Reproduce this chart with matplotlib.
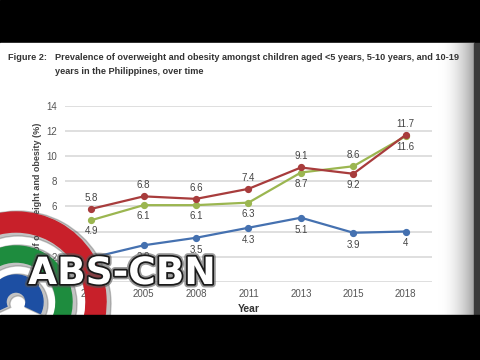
import matplotlib
matplotlib.use("Agg")
import matplotlib.pyplot as plt
import numpy as np
from matplotlib.patches import Rectangle, Wedge
import matplotlib.patheffects as pe

years = ["2003", "2005", "2008", "2011", "2013", "2015", "2018"]
age_5_10 = [5.8, 6.8, 6.6, 7.4, 9.1, 8.6, 11.7]
age_10_19 = [4.9, 6.1, 6.1, 6.3, 8.7, 9.2, 11.6]
under_5 = [1.9, 2.9, 3.5, 4.3, 5.1, 3.9, 4.0]
y_ticks = [0, 2, 4, 6, 8, 10, 12, 14]

RED = "#a83c3c"
GREEN = "#9bb650"
BLUE = "#4571b0"
plt.rcParams["font.family"] = ["Liberation Sans", "DejaVu Sans"]

W, H = 480, 360
fig = plt.figure(figsize=(4.8, 3.6), dpi=100)

# background (pixel coordinates, y down)
bg = fig.add_axes([0, 0, 1, 1], zorder=0)
bg.set_xlim(0, W); bg.set_ylim(H, 0); bg.axis("off")
bg.add_patch(Rectangle((0, 0), W, H, color="black"))
bg.add_patch(Rectangle((0, 43), 474, 272, color="white"))
grad = np.linspace(0, 1, 64) ** 2
img = np.ones((2, 64, 3)) * (1 - 0.35 * grad)[None, :, None]
bg.imshow(img, extent=(438, 474, 315, 43), aspect="auto", zorder=2)
bg.add_patch(Rectangle((474, 43), 6, 272, color="#3a3a3a", zorder=3))

tkw = dict(fontsize=6.6, fontweight="bold", color="#333333", va="center", ha="left")
bg.text(8, 57, "Figure 2:", **tkw)
bg.text(55, 57, "Prevalence of overweight and obesity amongst children aged <5 years, 5-10 years, and 10-19", **tkw)
bg.text(55, 71, "years in the Philippines, over time", **tkw)
bg.text(38, 212, "Prevalence of overweight and obesity (%)", rotation=90,
        fontsize=6.5, fontweight="bold", color="#444444", va="center", ha="center")

# main chart
ax = fig.add_axes([65 / W, (H - 281.7) / H, 367 / W, 175.7 / H], zorder=1)
ax.patch.set_alpha(0)
x = np.arange(len(years))
ax.set_xlim(-0.5, len(years) - 0.5)
ax.set_ylim(0, 14)
ax.set_yticks(y_ticks)
ax.set_xticks(x)
ax.set_xticklabels(years)
for s in ax.spines.values():
    s.set_visible(False)
ax.grid(axis="y", color="#dcdcdc", lw=1.3)
ax.set_axisbelow(True)
ax.tick_params(length=0, labelsize=7, labelcolor="#555555")
ax.tick_params(axis="y", pad=6)
ax.tick_params(axis="x", pad=5)
ax.set_xlabel("Year", fontsize=7.5, fontweight="bold", color="#333333", labelpad=4)

for vals, col in [(under_5, BLUE), (age_10_19, GREEN), (age_5_10, RED)]:
    ax.plot(x, vals, color=col, lw=1.6, marker="o", ms=4.2, zorder=3)

lab_kw = dict(textcoords="offset points", ha="center", va="center",
              fontsize=7, color="#444444")
for i in x:
    top = max(age_5_10[i], age_10_19[i])
    bot = min(age_5_10[i], age_10_19[i])
    ax.annotate(f"{age_5_10[i]:g}", (i, top), xytext=(0, 8), **lab_kw)
    ax.annotate(f"{age_10_19[i]:g}", (i, bot), xytext=(0, -8), **lab_kw)
    ax.annotate(f"{under_5[i]:g}", (i, under_5[i]), xytext=(0, -8.5), **lab_kw)

# ABS-CBN watermark overlay (pixel coordinates, y up)
ov = fig.add_axes([0, 0, 1, 1], zorder=5)
ov.set_xlim(0, W); ov.set_ylim(0, H); ov.axis("off"); ov.patch.set_alpha(0)
cx, cy = 16, 58
for r, wdt, col in [(90, 20, "#c8202a"), (56, 16, "#1e8c3e"), (27, 17, "#1d4fa3")]:
    ov.add_patch(Wedge((cx + 2, cy - 2), r + 3, -25, 205, width=wdt + 5,
                       color="#555555", alpha=0.35))
    ov.add_patch(Wedge((cx, cy), r, -25, 205, width=wdt, color=col))
ov.text(122, 86, "ABS-CBN", fontsize=27, fontweight="bold", color="white",
        ha="center", va="center", family="DejaVu Sans",
        path_effects=[pe.withStroke(linewidth=5, foreground="#555555", alpha=0.6),
                      pe.withStroke(linewidth=2.5, foreground="#1a1a1a")])
ov.add_patch(Rectangle((0, 0), W, 45, color="black"))

fig.savefig("out.png", dpi=100)
